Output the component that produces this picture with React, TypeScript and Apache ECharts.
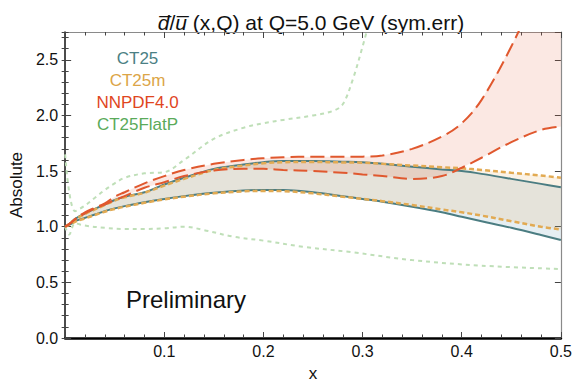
import React, { useEffect, useRef } from "react";
import * as echarts from "echarts";

// ---- data ----
const xs = [0, 0.005, 0.01, 0.02, 0.03, 0.04, 0.05, 0.06, 0.08, 0.1, 0.12, 0.15, 0.18, 0.2, 0.22, 0.25, 0.28, 0.3, 0.32, 0.35, 0.38, 0.4, 0.42, 0.45, 0.48, 0.5];

const ct25Hi = [1.0, 1.03, 1.07, 1.12, 1.16, 1.2, 1.24, 1.27, 1.31, 1.38, 1.44, 1.52, 1.56, 1.58, 1.59, 1.59, 1.585, 1.58, 1.565, 1.54, 1.515, 1.5, 1.475, 1.43, 1.385, 1.355];
const ct25Lo = [1.0, 1.02, 1.05, 1.08, 1.11, 1.14, 1.165, 1.185, 1.22, 1.25, 1.275, 1.305, 1.325, 1.33, 1.33, 1.31, 1.275, 1.25, 1.225, 1.18, 1.13, 1.09, 1.05, 0.99, 0.925, 0.88];

const ct25mHi = [1.0, 1.03, 1.065, 1.115, 1.155, 1.195, 1.235, 1.265, 1.305, 1.37, 1.43, 1.51, 1.55, 1.57, 1.58, 1.582, 1.578, 1.575, 1.565, 1.55, 1.535, 1.525, 1.51, 1.485, 1.46, 1.44];
const ct25mLo = [1.0, 1.02, 1.045, 1.075, 1.105, 1.135, 1.16, 1.18, 1.215, 1.245, 1.27, 1.3, 1.318, 1.322, 1.32, 1.3, 1.27, 1.25, 1.23, 1.195, 1.155, 1.13, 1.1, 1.05, 1.0, 0.975];

const nnHi = [1.0, 1.03, 1.07, 1.13, 1.17, 1.21, 1.27, 1.31, 1.39, 1.455, 1.51, 1.565, 1.6, 1.615, 1.625, 1.63, 1.63, 1.63, 1.64, 1.7, 1.81, 1.93, 2.14, 2.62, 3.2, 3.6];
const nnLo = [1.0, 1.03, 1.065, 1.12, 1.165, 1.2, 1.24, 1.275, 1.35, 1.4, 1.455, 1.505, 1.52, 1.52, 1.51, 1.5, 1.485, 1.47, 1.455, 1.43, 1.455, 1.53, 1.62, 1.76, 1.87, 1.9];

const fpHiX = [0, 0.01, 0.02, 0.03, 0.04, 0.05, 0.06, 0.08, 0.1, 0.12, 0.15, 0.18, 0.2, 0.22, 0.25, 0.27, 0.28, 0.29, 0.3, 0.31];
const fpHi = [1.65, 1.14, 1.19, 1.26, 1.33, 1.39, 1.44, 1.48, 1.49, 1.6, 1.79, 1.89, 1.93, 1.96, 2.0, 2.04, 2.1, 2.32, 2.62, 2.95];
const fpLoX = [0, 0.004, 0.01, 0.02, 0.04, 0.06, 0.08, 0.1, 0.12, 0.14, 0.17, 0.2, 0.24, 0.29, 0.35, 0.42, 0.5];
const fpLo = [1.0, 0.93, 1.03, 1.01, 0.99, 0.98, 0.98, 0.985, 1.0, 0.97, 0.91, 0.875, 0.82, 0.77, 0.7, 0.65, 0.62];

const legendNames = ["CT25", "CT25m", "NNPDF4.0", "CT25FlatP"];
const legendColors = ["#4b7f84", "#dca548", "#e0461e", "#5aaa5a"];

const FONT = "Liberation Sans";
const SMOOTH = 0.35;

const pairs = (x: number[], y: number[]) => x.map((v, i) => [v, y[i]]);

// clip a closed polygon (pixel coords) against the horizontal line y = top (keep y >= top)
function clipTop(pts: number[][], top: number) {
  const out: number[][] = [];
  const n = pts.length;
  const cross = (a: number[], b: number[]) => {
    const t = (top - a[1]) / (b[1] - a[1]);
    return [a[0] + t * (b[0] - a[0]), top];
  };
  for (let i = 0; i < n; i++) {
    const cur = pts[i];
    const prev = pts[(i - 1 + n) % n];
    const curIn = cur[1] >= top;
    const prevIn = prev[1] >= top;
    if (curIn) {
      if (!prevIn) out.push(cross(prev, cur));
      out.push(cur);
    } else if (prevIn) {
      out.push(cross(prev, cur));
    }
  }
  return out;
}

function band(lo: number[], hi: number[], fill: string) {
  return {
    type: "custom", silent: true, clip: true, z: 1,
    data: [[xs[0], lo[0]]],
    renderItem: (params: any, api: any) => {
      const pts: number[][] = [];
      for (let i = 0; i < xs.length; i++) pts.push(api.coord([xs[i], hi[i]]));
      for (let i = xs.length - 1; i >= 0; i--) pts.push(api.coord([xs[i], lo[i]]));
      const clipped = clipTop(pts, params.coordSys.y);
      return { type: "polygon", shape: { points: clipped }, style: { fill } };
    },
  };
}

function line(x: number[], y: number[], color: string, width: number, type: any) {
  return {
    type: "line", data: pairs(x, y), symbol: "none", smooth: SMOOTH, silent: true, z: 3,
    lineStyle: { color, width, type },
  };
}

export default function App() {
  const ref = useRef<HTMLDivElement>(null);
  useEffect(() => {
    document.body.style.margin = "0";
    const chart = echarts.init(ref.current!, undefined, { renderer: "svg" });
    const tickStyle = { color: "#444", width: 1 };
    const commonX = { type: "value", min: 0, max: 0.5, interval: 0.1, splitLine: { show: false } };
    const option: any = {
      animation: false,
      grid: { left: 62, right: 14, top: 32, bottom: 47 },
      xAxis: [
        {
          ...commonX, position: "bottom",
          name: "x", nameLocation: "middle", nameGap: 27,
          nameTextStyle: { fontSize: 17, color: "#111", fontFamily: FONT },
          axisLine: { show: true, onZero: false, lineStyle: { color: "#000", width: 2.5 } },
          axisTick: { show: true, inside: true, length: 6, lineStyle: tickStyle },
          minorTick: { show: true, splitNumber: 5, length: 3.5, lineStyle: tickStyle },
          axisLabel: {
            fontSize: 16, color: "#111", fontFamily: FONT, margin: 5,
            formatter: (v: number) => (v === 0 ? "" : v.toFixed(1)),
          },
        },
        {
          ...commonX, position: "top",
          axisLine: { show: true, onZero: false, lineStyle: { color: "#8a8a8a", width: 1.2 } },
          axisTick: { show: true, inside: true, length: 6, lineStyle: tickStyle },
          minorTick: { show: true, splitNumber: 5, length: 3.5, lineStyle: tickStyle },
          axisLabel: { show: false },
        },
      ],
      yAxis: [
        {
          type: "value", min: 0, max: 2.75, interval: 0.5, position: "left",
          name: "Absolute", nameLocation: "middle", nameGap: 38,
          nameTextStyle: { fontSize: 17, color: "#111", fontFamily: FONT },
          splitLine: { show: false },
          axisLine: { show: true, onZero: false, lineStyle: { color: "#111", width: 1.5 } },
          axisTick: { show: true, inside: true, length: 6, lineStyle: tickStyle },
          axisLabel: {
            fontSize: 16, color: "#111", fontFamily: FONT, margin: 7, showMaxLabel: false,
            formatter: (v: number) => (Math.abs(v * 2 - Math.round(v * 2)) > 1e-6 ? "" : v.toFixed(1)),
          },
        },
        {
          type: "value", min: 0, max: 2.75, interval: 0.1, position: "left",
          splitLine: { show: false }, axisLine: { show: false },
          axisTick: { show: true, inside: true, length: 3.5, lineStyle: tickStyle },
          axisLabel: { show: false },
        },
        {
          type: "value", min: 0, max: 2.75, interval: 0.5, position: "right",
          splitLine: { show: false },
          axisLine: { show: true, onZero: false, lineStyle: { color: "#8a8a8a", width: 1.2 } },
          axisTick: { show: true, inside: true, length: 6, lineStyle: tickStyle },
          axisLabel: { show: false },
        },
        {
          type: "value", min: 0, max: 2.75, interval: 0.1, position: "right",
          splitLine: { show: false }, axisLine: { show: false },
          axisTick: { show: true, inside: true, length: 3.5, lineStyle: tickStyle },
          axisLabel: { show: false },
        },
      ],
      series: [
        band(ct25Lo, ct25Hi, "rgba(80,140,165,0.15)"),
        band(ct25mLo, ct25mHi, "rgba(230,170,80,0.15)"),
        band(nnLo, nnHi, "rgba(230,100,70,0.15)"),
        line(fpHiX, fpHi, "#bfdfb8", 2, [4, 4]),
        line(fpLoX, fpLo, "#bfdfb8", 2, [4, 4]),
        line(xs, ct25Hi, "#4b7d82", 2, "solid"),
        line(xs, ct25Lo, "#4b7d82", 2, "solid"),
        line(xs, ct25mHi, "#e2aa52", 2.5, [5, 3]),
        line(xs, ct25mLo, "#e2aa52", 2.5, [5, 3]),
        line(xs, nnHi, "#e0582e", 2, [14, 6]),
        line(xs, nnLo, "#e0582e", 2, [14, 6]),
      ],
      graphic: [
        {
          type: "text", x: 311, y: 22,
          style: {
            text: "{i|d\u0305}/{i|u\u0305} (x,Q) at Q=5.0 GeV (sym.err)",
            fontSize: 21, fontFamily: FONT, fill: "#111",
            align: "center", verticalAlign: "middle",
            rich: { i: { fontStyle: "italic", fontSize: 21, fontFamily: FONT, fill: "#111" } },
          },
        },
        ...legendNames.map((n, i) => ({
          type: "text", x: 137.5, y: 58 + i * 22,
          style: { text: n, fontSize: 17, fontFamily: FONT, fill: legendColors[i], align: "center", verticalAlign: "middle" },
        })),
        {
          type: "text", x: 186, y: 299,
          style: { text: "Preliminary", fontSize: 24, fontFamily: FONT, fill: "#111", align: "center", verticalAlign: "middle" },
        },
      ],
    };
    chart.setOption(option);
    return () => chart.dispose();
  }, []);
  return <div ref={ref} style={{ width: 575, height: 387 }} />;
}
